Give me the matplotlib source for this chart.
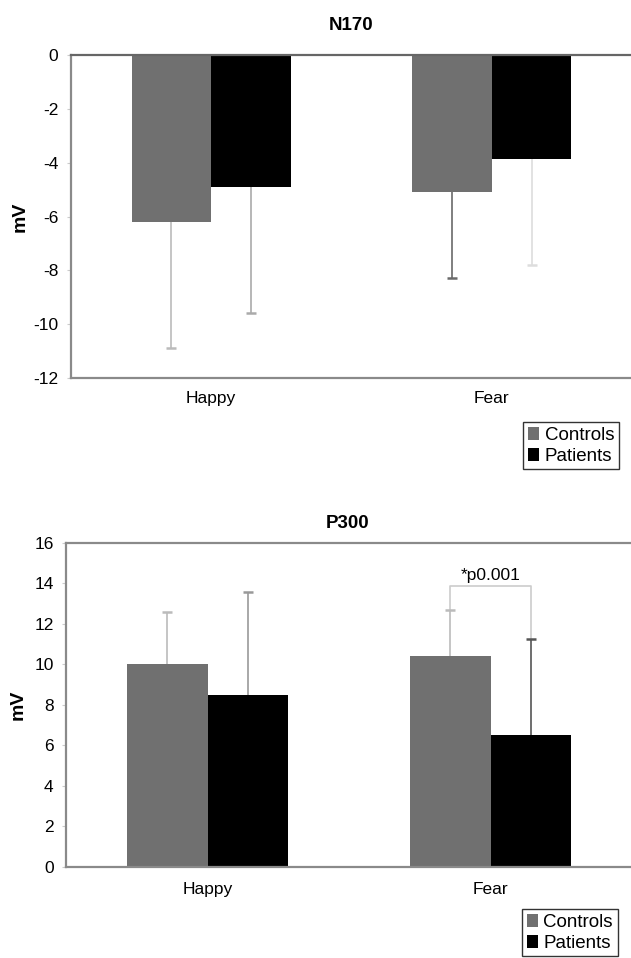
import numpy as np
import matplotlib.pyplot as plt

plt.rcParams['font.family'] = ['Liberation Sans', 'DejaVu Sans']
plt.rcParams['axes.unicode_minus'] = False

conditions = ['Happy', 'Fear']
groups = ['Controls', 'Patients']

# N170 amplitudes (mV) and SD
n170_controls = [-6.2, -5.1]
n170_patients = [-4.9, -3.85]
n170_controls_sd = [4.7, 3.2]
n170_patients_sd = [4.7, 3.95]

# P300 amplitudes (mV) and SD
p300_controls = [10.0, 10.4]
p300_patients = [8.5, 6.5]
p300_controls_sd = [2.6, 2.3]
p300_patients_sd = [5.1, 4.75]

p_label = '*p0.001'
bracket_y = 13.9

ctrl_color = '#707070'
pat_color = '#000000'
spine_color = '#8a8a8a'
w = 0.283


def draw_panel(ax, ctrl, pat, ctrl_sd, pat_sd, ylim, yticks, err_colors, down):
    x = np.arange(len(conditions))
    ax.bar(x - w / 2, ctrl, w, color=ctrl_color, label=groups[0], zorder=2)
    ax.bar(x + w / 2, pat, w, color=pat_color, label=groups[1], zorder=2)
    xs = list(x - w / 2) + list(x + w / 2)
    vals = list(ctrl) + list(pat)
    sds = list(ctrl_sd) + list(pat_sd)
    for xi, v, s, c in zip(xs, vals, sds, err_colors):
        end = v - s if down else v + s
        # one sided error bar, cap only at the far end
        ax.vlines(xi, v, end, color=c, lw=1.2, zorder=1)
        ax.plot([xi], [end], marker='_', markersize=7, mew=1.8, color=c, zorder=3)
    ax.set_xlim(-0.5, 1.5)
    ax.set_ylim(*ylim)
    ax.set_yticks(yticks)
    ax.set_xticks(x)
    ax.set_xticklabels(conditions, fontsize=12.5)
    ax.tick_params(axis='y', labelsize=12.5, length=3, color='#cccccc', pad=6)
    ax.tick_params(axis='x', length=0)
    for sp in ax.spines.values():
        sp.set_color(spine_color)
        sp.set_linewidth(1.6)
    ax.set_ylabel('mV', fontsize=14, fontweight='bold')


fig = plt.figure(figsize=(6.31, 9.58), dpi=100)

leg_kw = dict(loc='upper left', fontsize=13.5, frameon=True, fancybox=False,
              edgecolor='black', handlelength=0.6, handleheight=0.7,
              handletextpad=0.3, borderpad=0.25, labelspacing=0.2,
              borderaxespad=0)

ax1 = fig.add_axes([0.112, 0.6054, 0.89, 0.3372])
draw_panel(ax1, n170_controls, n170_patients, n170_controls_sd, n170_patients_sd,
           (-12, 0), np.arange(-12, 1, 2),
           ['#bbbbbb', '#6a6a6a', '#aaaaaa', '#dddddd'], down=True)
ax1.spines['top'].set_color('#666666')
ax1.tick_params(axis='x', pad=9)
ax1.yaxis.set_label_coords(-0.075, 0.5)
fig.text(0.556, 1 - 25 / 958, 'N170', ha='center', va='center',
         fontsize=13.5, fontweight='bold')
fig.legend(*ax1.get_legend_handles_labels(), bbox_to_anchor=(0.829, 0.5595), **leg_kw)

ax2 = fig.add_axes([0.1046, 0.095, 0.897, 0.3382])
draw_panel(ax2, p300_controls, p300_patients, p300_controls_sd, p300_patients_sd,
           (0, 16), np.arange(0, 17, 2),
           ['#bbbbbb', '#bbbbbb', '#999999', '#555555'], down=False)
ax2.tick_params(axis='x', pad=11)
ax2.yaxis.set_label_coords(-0.07, 0.5)
fig.text(0.551, 1 - 523 / 958, 'P300', ha='center', va='center',
         fontsize=13.5, fontweight='bold')

# significance bracket on Fear
xl = 1 - w / 2
xr = 1 + w / 2
ax2.plot([xl, xl, xr, xr],
         [p300_controls[1] + p300_controls_sd[1], bracket_y, bracket_y,
          p300_patients[1] + p300_patients_sd[1]],
         color='#cccccc', lw=1.2, zorder=1)
ax2.text(1, bracket_y + 0.1, p_label, ha='center', va='bottom', fontsize=12.5)

fig.legend(*ax2.get_legend_handles_labels(), bbox_to_anchor=(0.827, 0.0511), **leg_kw)

fig.savefig('out.png', dpi=100, facecolor='white')
